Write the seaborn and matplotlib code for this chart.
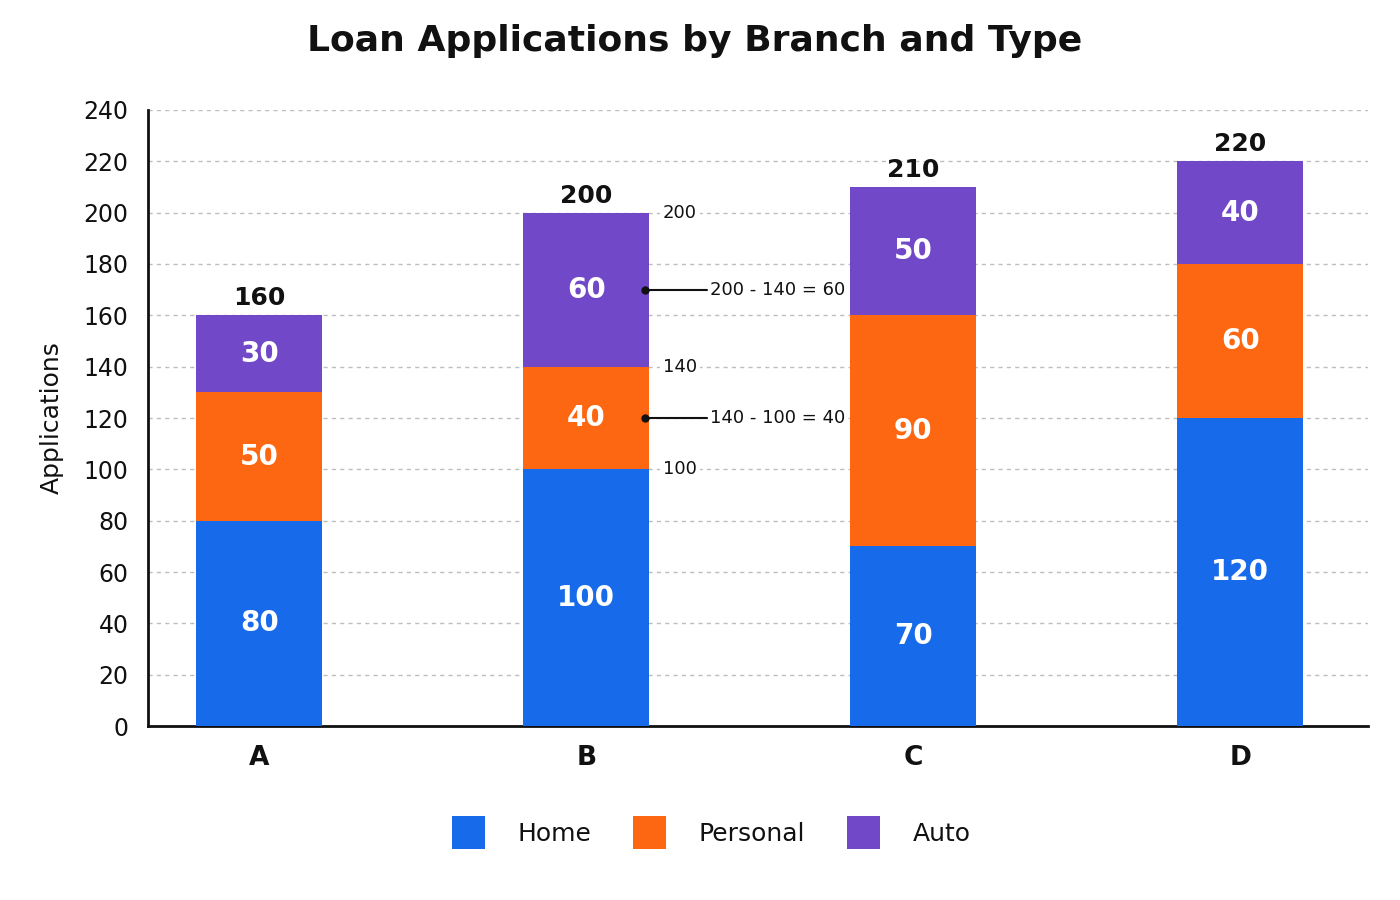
import pandas as pd
import matplotlib
matplotlib.use("Agg")
import matplotlib.pyplot as plt
import seaborn as sns
from matplotlib.patches import Patch

# Data
branches = ["A", "B", "C", "D"]
home = [80, 100, 70, 120]
personal = [50, 40, 90, 60]
auto = [30, 60, 50, 40]
loan_types = ["Home", "Personal", "Auto"]
colors = {"Home": "#176BEA", "Personal": "#FE6711", "Auto": "#7048C8"}
y_ticks = list(range(0, 241, 20))

sns.set_theme(style="white")
plt.rcParams["font.family"] = ["DejaVu Sans"]
ink = "#111111"

df = pd.DataFrame({"Branch": branches, "Home": home, "Personal": personal, "Auto": auto})
df["cum_home"] = df["Home"]
df["cum_personal"] = df["Home"] + df["Personal"]
df["cum_auto"] = df["cum_personal"] + df["Auto"]

fig = plt.figure(figsize=(14, 9), dpi=100)
ax = fig.add_axes([0.1057, 0.1933, 0.8713, 0.6845])

bar_w = 0.385
# stacked bars drawn as overlapping cumulative bars (top segment first)
for col, lt in [("cum_auto", "Auto"), ("cum_personal", "Personal"), ("cum_home", "Home")]:
    sns.barplot(data=df, x="Branch", y=col, color=colors[lt], width=bar_w,
                saturation=1, ax=ax, zorder=3, linewidth=0)

ax.set_xlim(-0.34, 3.39)
ax.set_ylim(0, 240)
ax.set_yticks(y_ticks)
ax.yaxis.grid(True, linestyle=(0, (3, 3)), color="#bdbdbd", linewidth=1, zorder=0)
ax.set_axisbelow(True)
sns.despine(ax=ax)
for s in ["left", "bottom"]:
    ax.spines[s].set_linewidth(2)
    ax.spines[s].set_color(ink)
ax.tick_params(axis="y", length=8, width=1.8, color=ink, labelsize=17, pad=6,
               labelcolor=ink)
ax.tick_params(axis="x", length=0, labelsize=19, pad=14, labelcolor=ink)
for lab in ax.get_xticklabels():
    lab.set_fontweight("bold")
ax.set_xlabel("")
ax.set_ylabel("Applications", fontsize=18, labelpad=14, color=ink)

# segment labels and totals
for i in range(len(branches)):
    bases = [0, home[i], home[i] + personal[i]]
    vals = [home[i], personal[i], auto[i]]
    for b, v in zip(bases, vals):
        ax.text(i, b + v / 2, str(v), ha="center", va="center", color="white",
                fontsize=20, fontweight="bold", zorder=5)
    total = home[i] + personal[i] + auto[i]
    ax.text(i, total + 2, str(total), ha="center", va="bottom", color=ink,
            fontsize=18, fontweight="bold", zorder=5)

# subtraction annotations on branch B
bi = 1
b_levels = [home[bi], home[bi] + personal[bi], home[bi] + personal[bi] + auto[bi]]
for lvl in b_levels:
    ax.text(bi + 0.235, lvl, str(lvl), ha="left", va="center", fontsize=13,
            color=ink, zorder=5,
            bbox=dict(facecolor="white", edgecolor="none", pad=2))
notes = [
    (home[bi] + personal[bi] / 2, f"{b_levels[1]} - {b_levels[0]} = {personal[bi]}"),
    (b_levels[1] + auto[bi] / 2, f"{b_levels[2]} - {b_levels[1]} = {auto[bi]}"),
]
for y, txt in notes:
    ax.plot([bi + 0.18, bi + 0.37], [y, y], color=ink, linewidth=1.5, zorder=5)
    ax.plot([bi + 0.18], [y], "o", color=ink, markersize=5, zorder=6)
    ax.text(bi + 0.38, y, txt, ha="left", va="center", fontsize=13, color=ink,
            zorder=5, bbox=dict(facecolor="white", edgecolor="none", pad=2))

fig.text(0.496, 0.955, "Loan Applications by Branch and Type", ha="center", va="center",
         fontsize=26, fontweight="bold", color=ink)

handles = [Patch(facecolor=colors[t], edgecolor="none", label=t) for t in loan_types]
leg = fig.legend(handles=handles, loc="center", bbox_to_anchor=(0.508, 0.075), ncol=3,
                 frameon=False, fontsize=18, handlelength=1.3, handleheight=1.6,
                 handletextpad=1.3, columnspacing=1.7)
for t in leg.get_texts():
    t.set_color(ink)

fig.savefig("out.png", dpi=100)
